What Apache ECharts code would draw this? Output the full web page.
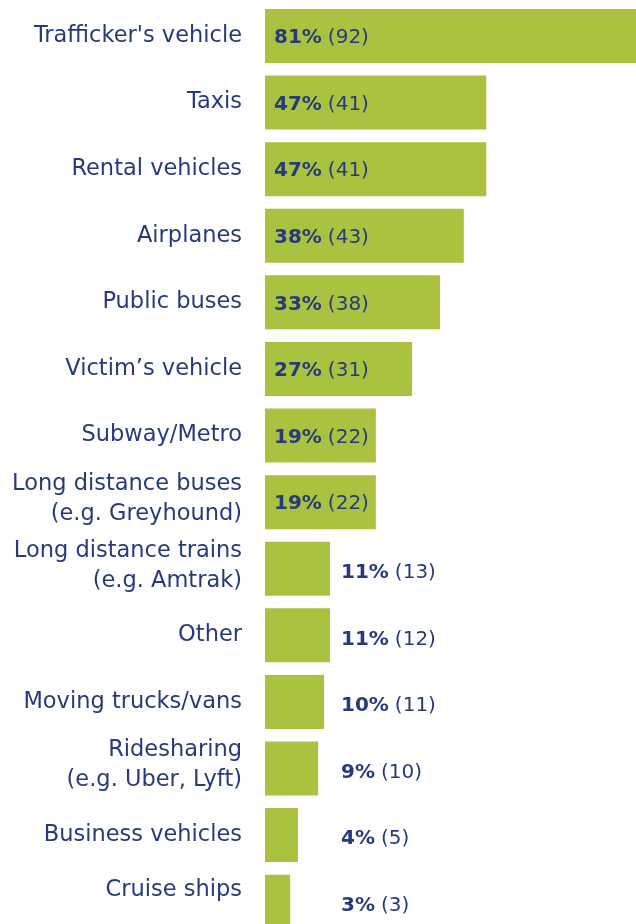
<!DOCTYPE html>
<html>
<head>
<meta charset="utf-8">
<script src="https://cdn.jsdelivr.net/npm/echarts@6/dist/echarts.min.js"></script>
<style>
  html, body { margin: 0; padding: 0; background: #fff; overflow: hidden; }
  #chart { width: 636px; height: 935px; }
</style>
</head>
<body>
<div id="chart"></div>
<script>
// 类别与数值
var categories = [
    "Trafficker's vehicle",
    'Taxis',
    'Rental vehicles',
    'Airplanes',
    'Public buses',
    'Victim\u2019s vehicle',
    'Subway/Metro',
    'Long distance buses\n(e.g. Greyhound)',
    'Long distance trains\n(e.g. Amtrak)',
    'Other',
    'Moving trucks/vans',
    'Ridesharing\n(e.g. Uber, Lyft)',
    'Business vehicles',
    'Cruise ships'
];
var percents = [81, 47, 47, 38, 33, 27, 19, 19, 11, 11, 10, 9, 4, 3];
var counts = [92, 41, 41, 43, 38, 31, 22, 22, 13, 12, 11, 10, 5, 3];
// bar lengths as drawn in the picture (same scale as 81 for the first bar)
var barLength = [81, 48.3, 48.3, 43.4, 38.2, 32.1, 24.2, 24.2, 14.2, 14.2, 12.9, 11.6, 7.2, 5.5];

var navy = '#283a7b';
var green = '#a9c23f';
var font = 'DejaVu Sans';
var catSize = 22.5;

var chart = echarts.init(document.getElementById('chart'));

var seriesData = [];
for (var i = 0; i < barLength.length; i++) {
    var inside = percents[i] >= 19;
    seriesData.push({
        value: barLength[i],
        label: {
            position: inside ? [9, '50%'] : [76, '50%'],
            offset: inside ? [0, 2] : [0, 4],
            formatter: '{b|' + percents[i] + '%}{n|(' + counts[i] + ')}'
        }
    });
}

var option = {
    animation: false,
    grid: {
        left: 265,
        right: 0,
        top: 2.7,
        bottom: 0,
        containLabel: false
    },
    xAxis: {
        type: 'value',
        min: 0,
        max: 81,
        show: false
    },
    yAxis: {
        type: 'category',
        inverse: true,
        data: categories,
        axisLine: { show: false },
        axisTick: { show: false },
        splitLine: { show: false },
        axisLabel: {
            margin: 23,
            color: navy,
            fontFamily: font,
            fontSize: catSize,
            lineHeight: 30,
            formatter: function (v) {
                if (v === 'Cruise ships') {
                    return '{up|' + v + '}';
                }
                if (v.indexOf('\n') > -1) {
                    return '{m|' + v.split('\n').join('}\n{m|') + '}';
                }
                return '{n|' + v + '}';
            },
            rich: {
                n: { color: navy, fontFamily: font, fontSize: catSize, lineHeight: 30, padding: [0, 0, 0, 0] },
                m: { color: navy, fontFamily: font, fontSize: catSize, lineHeight: 30, padding: [0, 0, 6, 0] },
                up: { color: navy, fontFamily: font, fontSize: catSize, lineHeight: 30, padding: [0, 0, 24, 0] }
            }
        }
    },
    series: [
        {
            type: 'bar',
            barWidth: 54,
            itemStyle: { color: green },
            data: seriesData,
            label: {
                show: true,
                align: 'left',
                verticalAlign: 'middle',
                rich: {
                    b: { color: navy, fontFamily: font, fontWeight: 'bold', fontSize: 20, padding: [0, 6, 0, 0] },
                    n: { color: navy, fontFamily: font, fontSize: 20 }
                }
            }
        }
    ]
};
chart.setOption(option);
</script>
</body>
</html>
